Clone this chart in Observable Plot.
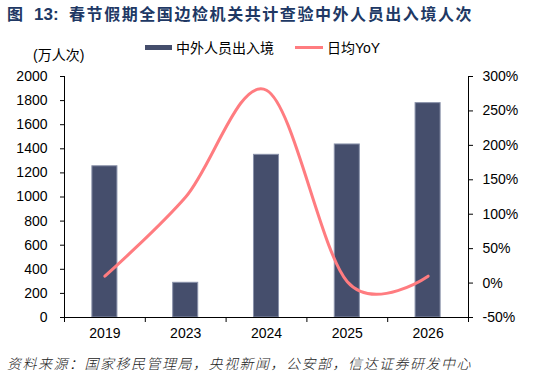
<!DOCTYPE html>
<html>
<head>
<meta charset="utf-8">
<script src="https://cdn.jsdelivr.net/npm/d3@7"></script>
<script src="https://cdn.jsdelivr.net/npm/@observablehq/plot@0.6"></script>
<style>
  html, body { margin: 0; padding: 0; background: #fff; }
  #wrap { position: relative; width: 534px; height: 377px; overflow: hidden;
          font-family: "Liberation Sans", Arial, "Noto Sans CJK SC", sans-serif; }
  .abs { position: absolute; white-space: nowrap; }
  .title { color: #203864; font-weight: bold; font-size: 16px; line-height: 20px;
           font-family: "Liberation Sans", Arial, "Noto Sans CJK SC", sans-serif; }
  .lg { font-size: 14px; line-height: 16px; color: #000;
        font-family: "Liberation Sans", Arial, "Noto Sans CJK SC", sans-serif; }
  #chart { position: absolute; left: 0; top: 60px; }
  .cap { font-size: 14px; line-height: 18px; color: #222; font-style: italic; letter-spacing: 1.5px;
         font-weight: 300; font-family: "Noto Sans CJK SC", sans-serif; }
</style>
</head>
<body>
<div id="wrap">
  <div class="abs title" style="left:7px; top:5px;">图</div>
  <div class="abs title" style="left:34px; top:5px; font-size:17px;">13:</div>
  <div class="abs title" style="left:69px; top:5px; letter-spacing:1.57px;">春节假期全国边检机关共计查验中外人员出入境人次</div>

  <div class="abs lg" style="left:33px; top:47px;">(万人次)</div>
  <div class="abs" style="left:145px; top:45px; width:27px; height:5px; background:#454e6c;"></div>
  <div class="abs lg" style="left:176px; top:40px;">中外人员出入境</div>
  <div class="abs" style="left:295px; top:46px; width:28px; height:3px; background:#ff7c80;"></div>
  <div class="abs lg" style="left:327px; top:40px;">日均YoY</div>

  <div id="chart"></div>

  <div class="abs cap" style="left:7px; top:354px;">资料来源：国家移民管理局，央视新闻，公安部，信达证券研发中心</div>
</div>
<script>
const years = ["2019", "2023", "2024", "2025", "2026"];
const travelers = [1255, 288, 1350, 1436, 1779];   // 万人次
const yoyPct = [10, 125, 280, 2, 10];              // 日均YoY, %
const leftTicks = [0, 200, 400, 600, 800, 1000, 1200, 1400, 1600, 1800, 2000];
const rightTicks = [-50, 0, 50, 100, 150, 200, 250, 300];

const leftMax = 2000, rMin = -50, rMax = 300;
const toLeft = p => (p - rMin) / (rMax - rMin) * leftMax;
const toRight = v => v / leftMax * (rMax - rMin) + rMin;

const data = years.map((y, i) => ({i, year: y, value: travelers[i], yoy: yoyPct[i]}));
const half = 0.155; // half bar width in category units

const chart = Plot.plot({
  width: 534,
  height: 290,
  marginTop: 16,
  marginBottom: 33,
  marginLeft: 64,
  marginRight: 66,
  style: {fontSize: "14px", fontFamily: "'Liberation Sans', Arial, sans-serif", color: "#000", background: "transparent"},
  x: {domain: [0, years.length], axis: null},
  y: {domain: [0, leftMax], axis: null},
  marks: [
    Plot.rectY(data, {x1: d => d.i + 0.5 - half, x2: d => d.i + 0.5 + half, y: "value",
                      fill: "#454e6c", stroke: "#8a92aa", strokeWidth: 1}),
    Plot.ruleX([0, years.length], {stroke: "#000", strokeWidth: 1}),
    Plot.ruleY([0], {stroke: "#000", strokeWidth: 1}),
    Plot.axisY({anchor: "left", label: null, ticks: leftTicks, tickSize: 4, tickPadding: 13, tickFormat: d => String(d)}),
    Plot.axisY({anchor: "right", label: null, ticks: rightTicks.map(toLeft), tickSize: 4, tickPadding: 10,
                tickFormat: v => Math.round(toRight(v)) + "%"}),
    Plot.axisX({anchor: "bottom", label: null, ticks: d3.range(years.length + 1), tickSize: 5, tickFormat: () => ""}),
    Plot.axisX({anchor: "bottom", label: null, ticks: years.map((y, i) => i + 0.5), tickSize: 0, tickPadding: 11,
                tickFormat: v => years[Math.floor(v)]}),
    Plot.lineY(data, {x: d => d.i + 0.5, y: d => toLeft(d.yoy), curve: "cardinal",
                      stroke: "#ff7c80", strokeWidth: 3})
  ]
});
document.getElementById("chart").appendChild(chart);
</script>
</body>
</html>
